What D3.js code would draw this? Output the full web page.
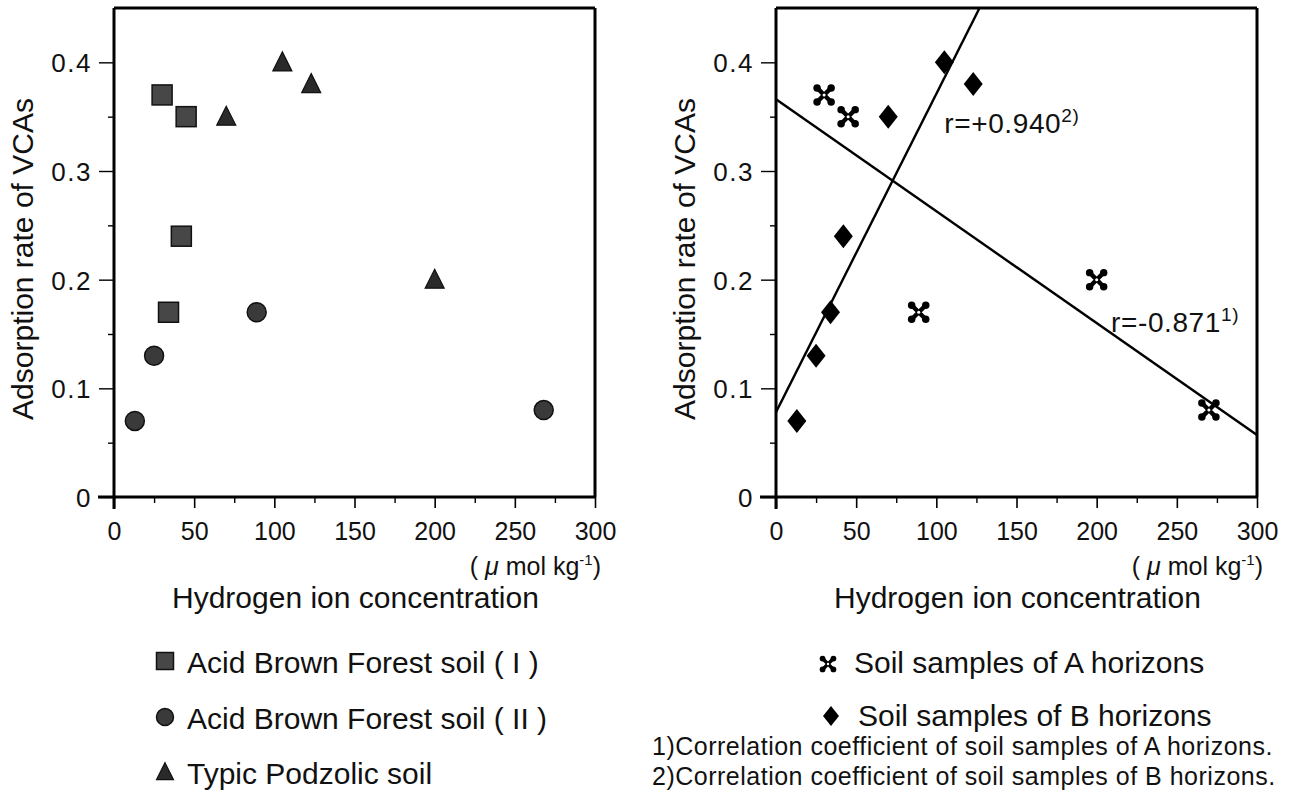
<!DOCTYPE html>
<html>
<head>
<meta charset="utf-8">
<script src="https://cdn.jsdelivr.net/npm/d3@7"></script>
<style>
  html, body { margin: 0; padding: 0; background: #fff; }
  svg { display: block; }
  text { font-family: "Liberation Sans", Arial, Helvetica, sans-serif; fill: #111; }
</style>
</head>
<body>
<svg id="chart" width="1298" height="803"></svg>
<script>
// ---------------- data ----------------
const xTicks = [0, 50, 100, 150, 200, 250, 300];
const yTicks = [0, 0.1, 0.2, 0.3, 0.4];
const yTickLabels = ["0", "0.1", "0.2", "0.3", "0.4"];

// Left panel: soil types
const brownForestI_x = [30, 45, 42, 34];
const brownForestI_y = [0.37, 0.35, 0.24, 0.17];
const brownForestII_x = [13, 25, 89, 268];
const brownForestII_y = [0.07, 0.13, 0.17, 0.08];
const podzolic_x = [70, 105, 123, 200];
const podzolic_y = [0.35, 0.40, 0.38, 0.20];

// Right panel: horizons
const horizonA_x = [30, 45, 89, 200, 270];
const horizonA_y = [0.37, 0.35, 0.17, 0.20, 0.08];
const horizonB_x = [13, 25, 34, 42, 70, 105, 123];
const horizonB_y = [0.07, 0.13, 0.17, 0.24, 0.35, 0.40, 0.38];

// Regression lines (intercept, slope)
const regA = { intercept: 0.366, slope: -0.00103 };
const regB = { intercept: 0.078, slope: 0.00293 };
const corrLabels = [
  { text: "r=+0.940", sup: "2)", x: 105, y: 0.335 },
  { text: "r=-0.871", sup: "1)", x: 209, y: 0.1515 }
];

const yTitle = "Adsorption rate of VCAs";
const xTitle = "Hydrogen ion concentration";
const leftLegend = ["Acid Brown Forest soil ( I )", "Acid Brown Forest soil ( II )", "Typic Podzolic soil"];
const rightLegend = ["Soil samples of A horizons", "Soil samples of B horizons"];
const footnotes = ["1)Correlation coefficient of soil samples of A horizons.",
                   "2)Correlation coefficient of soil samples of B horizons."];

// ---------------- drawing ----------------
const svg = d3.select("#chart");
const FONT_TICK = 25, FONT_TITLE = 30;

const yScale = d3.scaleLinear().domain([0, 0.45]).range([497, 8]);

function zip(xs, ys) { return xs.map((x, i) => ({ x, y: ys[i] })); }

function drawPanel(x0, x1) {
  const xScale = d3.scaleLinear().domain([0, 300]).range([x0, x1]);
  const g = svg.append("g");

  // frame top and right
  g.append("line").attr("x1", x0).attr("x2", x1).attr("y1", yScale(0.45)).attr("y2", yScale(0.45))
    .attr("stroke", "#000").attr("stroke-width", 3);
  g.append("line").attr("x1", x1).attr("x2", x1).attr("y1", yScale(0.45)).attr("y2", yScale(0))
    .attr("stroke", "#000").attr("stroke-width", 3);

  // x axis
  const xAxis = d3.axisBottom(xScale).tickValues(xTicks).tickSize(11).tickFormat(d3.format("d"));
  const gx = g.append("g").attr("transform", `translate(0,${yScale(0)})`).call(xAxis);
  gx.select(".domain").attr("stroke-width", 3).attr("d", `M${x0 - 16},0H${x1}`);
  gx.selectAll(".tick line").attr("stroke-width", 1.6);
  gx.selectAll(".tick text").attr("font-size", FONT_TICK).attr("dy", 0).attr("y", 43)
    .style("font-family", '"Liberation Sans", Arial, sans-serif');
  const xMinor = d3.axisBottom(xScale).tickValues(d3.range(25, 300, 50)).tickSize(6).tickFormat("");
  const gxm = g.append("g").attr("transform", `translate(0,${yScale(0)})`).call(xMinor);
  gxm.select(".domain").remove();
  gxm.selectAll(".tick line").attr("stroke-width", 1.4);

  // y axis
  const yAxis = d3.axisLeft(yScale).tickValues(yTicks).tickSize(15).tickFormat((d, i) => yTickLabels[i]);
  const gy = g.append("g").attr("transform", `translate(${x0},0)`).call(yAxis);
  gy.select(".domain").attr("stroke-width", 3).attr("d", `M0,${yScale(0.45)}V${yScale(0) + 12}`);
  gy.selectAll(".tick line").attr("stroke-width", 1.4);
  gy.selectAll(".tick text").attr("font-size", 26).attr("x", -22).attr("dy", "0.36em")
    .attr("letter-spacing", 1.5)
    .style("font-family", '"Liberation Sans", Arial, sans-serif');
  const yMinor = d3.axisLeft(yScale).tickValues([0.05, 0.15, 0.25, 0.35]).tickSize(6).tickFormat("");
  const gym = g.append("g").attr("transform", `translate(${x0},0)`).call(yMinor);
  gym.select(".domain").remove();
  gym.selectAll(".tick line").attr("stroke-width", 1.4);

  // y title
  g.append("text").attr("transform", `translate(${x0 - 81},${259}) rotate(-90)`)
    .attr("text-anchor", "middle").attr("font-size", FONT_TITLE).text(yTitle);

  // unit label
  const unit = g.append("text").attr("x", x1 + 6).attr("y", 575).attr("text-anchor", "end")
    .attr("font-size", FONT_TICK);
  unit.append("tspan").text("( ");
  unit.append("tspan").attr("font-style", "italic").text("μ");
  unit.append("tspan").text(" mol kg");
  unit.append("tspan").attr("font-size", 15).attr("dy", -10).text("-1");
  unit.append("tspan").attr("dy", 10).text(")");

  // x title
  g.append("text").attr("x", x0 + 58).attr("y", 608).attr("font-size", FONT_TITLE).text(xTitle);

  return { g, xScale };
}

// ---- markers ----
function square(g, cx, cy, s) {
  g.append("rect").attr("x", cx - s / 2).attr("y", cy - s / 2).attr("width", s).attr("height", s)
    .attr("fill", "#474747").attr("stroke", "#111").attr("stroke-width", 1.5);
}
function circle(g, cx, cy, r) {
  g.append("circle").attr("cx", cx).attr("cy", cy).attr("r", r)
    .attr("fill", "#3a3a3a").attr("stroke", "#111").attr("stroke-width", 1.5);
}
function triangle(g, cx, cy, s) {
  g.append("path").attr("transform", `translate(${cx},${cy})`)
    .attr("d", `M0,${-s * 0.55}L${s / 2},${s * 0.45}L${-s / 2},${s * 0.45}Z`)
    .attr("fill", "#2a2a2a").attr("stroke", "#111").attr("stroke-width", 1.2);
}
function diamond(g, cx, cy, w, h) {
  g.append("path").attr("transform", `translate(${cx},${cy})`)
    .attr("d", `M0,${-h / 2}L${w / 2},0L0,${h / 2}L${-w / 2},0Z`).attr("fill", "#000");
}
function cross(g, cx, cy, s) {
  const k = s * 0.32, r = s * 0.17;
  const c = g.append("g").attr("transform", `translate(${cx},${cy})`);
  c.append("path").attr("d", `M${-k},${-k}L${k},${k}M${k},${-k}L${-k},${k}`)
    .attr("stroke", "#000").attr("stroke-width", s * 0.2).attr("stroke-linecap", "round");
  [[-1, -1], [1, -1], [1, 1], [-1, 1]].forEach(([a, b]) =>
    c.append("circle").attr("cx", a * k).attr("cy", b * k).attr("r", r).attr("fill", "#000"));
  c.append("circle").attr("r", s * 0.07).attr("fill", "#fff");
}

// ---------------- left panel ----------------
const L = drawPanel(114, 595);
zip(brownForestI_x, brownForestI_y).forEach(d => square(L.g, L.xScale(d.x), yScale(d.y), 20));
zip(brownForestII_x, brownForestII_y).forEach(d => circle(L.g, L.xScale(d.x), yScale(d.y), 9.5));
zip(podzolic_x, podzolic_y).forEach(d => triangle(L.g, L.xScale(d.x), yScale(d.y), 19));

// left legend
const legRowsL = [662, 718, 773];
square(L.g, 165, legRowsL[0] - 1, 17);
circle(L.g, 165, legRowsL[1] - 1, 8.5);
triangle(L.g, 165, legRowsL[2] - 1, 17);
leftLegend.forEach((t, i) => {
  L.g.append("text").attr("x", 187).attr("y", legRowsL[i]).attr("dy", "0.36em")
    .attr("font-size", FONT_TITLE).text(t);
});

// ---------------- right panel ----------------
const R = drawPanel(776, 1257);
svg.append("defs").append("clipPath").attr("id", "plotClip")
  .append("rect").attr("x", 776).attr("y", yScale(0.45)).attr("width", 1257 - 776).attr("height", yScale(0) - yScale(0.45));

const line = d3.line().x(d => R.xScale(d[0])).y(d => yScale(d[1]));
[regA, regB].forEach(r => {
  R.g.append("path").attr("clip-path", "url(#plotClip)")
    .attr("d", line([[0, r.intercept], [300, r.intercept + r.slope * 300]]))
    .attr("fill", "none").attr("stroke", "#000").attr("stroke-width", 2.4);
});

zip(horizonB_x, horizonB_y).forEach(d => diamond(R.g, R.xScale(d.x), yScale(d.y), 19, 24));
zip(horizonA_x, horizonA_y).forEach(d => cross(R.g, R.xScale(d.x), yScale(d.y), 22));

corrLabels.forEach(c => {
  const t = R.g.append("text").attr("x", R.xScale(c.x)).attr("y", yScale(c.y)).attr("font-size", 28)
    .attr("letter-spacing", 0.6);
  t.append("tspan").text(c.text);
  t.append("tspan").attr("font-size", 19).attr("dy", -11).text(c.sup);
});

// right legend
const legRowsR = [662, 715];
cross(R.g, 828, legRowsR[0] + 2, 17);
diamond(R.g, 831, legRowsR[1] + 1, 16, 20);
rightLegend.forEach((t, i) => {
  R.g.append("text").attr("x", i === 0 ? 854 : 858).attr("y", legRowsR[i]).attr("dy", "0.36em")
    .attr("font-size", FONT_TITLE).text(t);
});
const footRows = [755, 785];
footnotes.forEach((t, i) => {
  R.g.append("text").attr("x", 652).attr("y", footRows[i]).attr("font-size", 25)
    .attr("letter-spacing", 0.5).text(t);
});
</script>
</body>
</html>
